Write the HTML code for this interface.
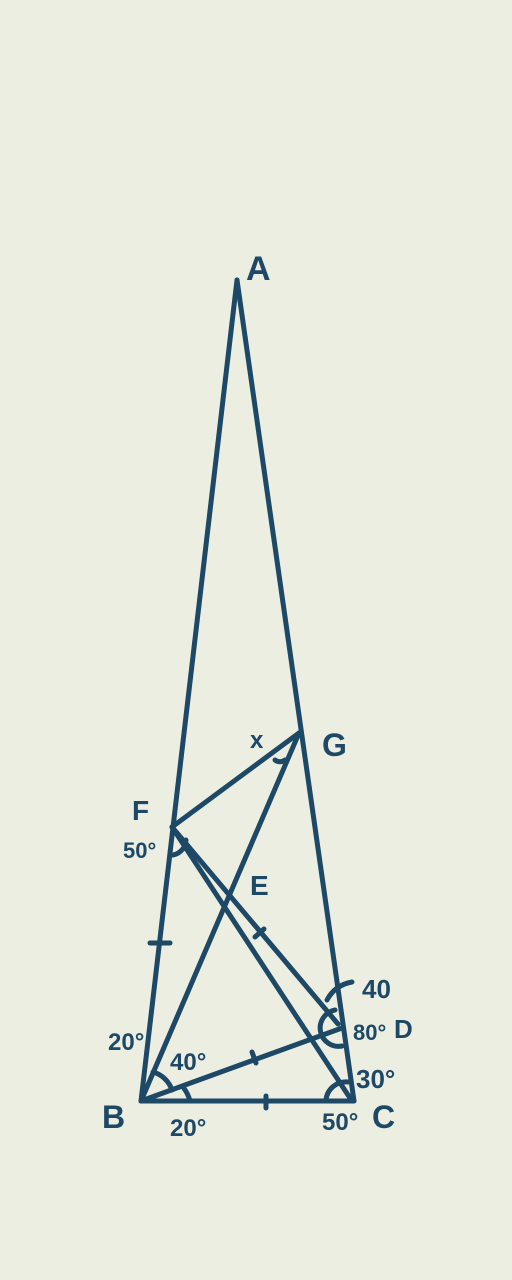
<!DOCTYPE html>
<html><head><meta charset="utf-8"><style>
html,body{margin:0;padding:0;background:#eceee1;}
svg{display:block}
text{font-family:"Liberation Sans",sans-serif;font-weight:bold;fill:#1d4866}
</style></head><body>
<svg width="512" height="1280" viewBox="0 0 512 1280">
<rect width="512" height="1280" fill="#eceee1"/>
<g stroke="#1d4866" stroke-width="5" stroke-linecap="round" fill="none">
<line x1="237" y1="280" x2="141" y2="1101"/>
<line x1="237" y1="280" x2="354" y2="1101"/>
<line x1="141" y1="1101" x2="354" y2="1101"/>
<line x1="141" y1="1101" x2="299" y2="733"/>
<line x1="172" y1="827" x2="299" y2="733"/>
<line x1="172" y1="827" x2="350" y2="1098"/>
<line x1="172" y1="827" x2="338" y2="1024"/>
<line x1="141" y1="1101" x2="342" y2="1028"/>
<line x1="150" y1="943" x2="170" y2="943"/>
<line x1="255" y1="937" x2="264" y2="929"/>
<line x1="252" y1="1052" x2="256" y2="1063"/>
<line x1="266" y1="1096" x2="266" y2="1108"/>
<path d="M 173 855 A 16 16 0 0 0 186 840"/>
<path d="M 153 1072 A 28 28 0 0 1 172 1090"/>
<path d="M 183 1087 A 38 38 0 0 1 190 1101"/>
<path d="M 326 1100 A 20 20 0 0 1 348 1082"/>
<path d="M 335 1010 A 14 14 0 0 0 342 1046"/>
<path d="M 327 1000 Q 335 985 352 982"/>
<path d="M 275 760 A 8 8 0 0 0 285 760"/>
</g>
<text x="246" y="280" font-size="34">A</text>
<text x="322" y="756" font-size="32">G</text>
<text x="132" y="820" font-size="28">F</text>
<text x="250" y="895" font-size="28">E</text>
<text x="250" y="748" font-size="24">x</text>
<text x="123" y="858" font-size="22">50°</text>
<text x="362" y="998" font-size="26">40</text>
<text x="353" y="1040" font-size="22">80°</text>
<text x="394" y="1038" font-size="26">D</text>
<text x="356" y="1088" font-size="26">30°</text>
<text x="108" y="1050" font-size="24">20°</text>
<text x="170" y="1070" font-size="24">40°</text>
<text x="102" y="1128" font-size="32">B</text>
<text x="170" y="1136" font-size="24">20°</text>
<text x="322" y="1130" font-size="24">50°</text>
<text x="372" y="1128" font-size="32">C</text>
</svg>
</body></html>
